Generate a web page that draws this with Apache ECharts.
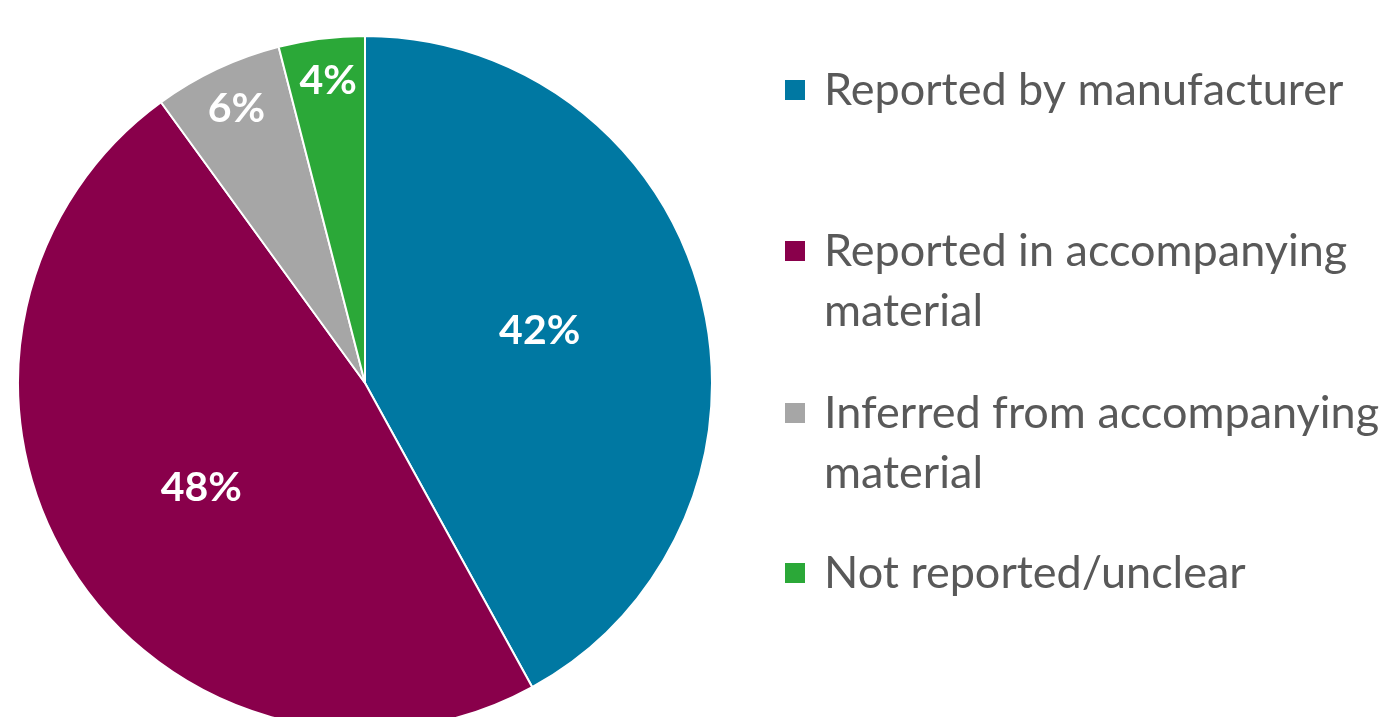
<!DOCTYPE html>
<html>
<head>
<meta charset="utf-8">
<script src="https://cdn.jsdelivr.net/npm/echarts@6/dist/echarts.min.js"></script>
<style>
html,body{margin:0;padding:0;background:#fff;}
#chart{width:1389px;height:717px;}
</style>
</head>
<body>
<div id="chart"></div>
<script>
// ---- data ----
var categories = ['Reported by manufacturer', 'Reported in accompanying material', 'Inferred from accompanying material', 'Not reported/unclear'];
var values = [42, 48, 6, 4];
var legendLines = [['Reported by manufacturer'], ['Reported in accompanying', 'material'], ['Inferred from accompanying', 'material'], ['Not reported/unclear']];

// ---- style ----
var colors = ['#0078A2', '#89004B', '#A6A6A6', '#2BA838'];
var labelRadialFrac = [0.52, 0.55, 0.875, 0.885];
var labelNudge = [[-3, -7], [0, 1], [2, 3], [2, 5]];
var R = 347;
var cx = 365, cy = 383;
var legendIconCenters = [90, 251, 413, 573];
var lineH = 60;

var total = values.reduce(function(a,b){return a+b;},0);
var cum = 0;
var pieData = values.map(function(v, i){
  var mid = (cum + v/2) / total * 2 * Math.PI;
  cum += v;
  var f = labelRadialFrac[i] - 0.5;
  var dx = f * R * Math.sin(mid) + labelNudge[i][0], dy = -f * R * Math.cos(mid) + labelNudge[i][1];
  return {
    name: categories[i], value: v,
    itemStyle: {color: colors[i]},
    label: {offset: [dx, dy]}
  };
});

var legends = categories.map(function(name, i){
  var lines = legendLines[i];
  var txt = lines.length > 1 ? '\n' + lines.join('\n') : lines[0];
  var nLines = lines.length > 1 ? 3 : 1;
  return {
    orient: 'vertical',
    left: 783,
    top: legendIconCenters[i] - nLines * lineH / 2,
    padding: 0,
    icon: 'rect',
    itemWidth: 22, itemHeight: 22,
    data: [name],
    selectedMode: false,
    formatter: function(){ return txt; },
    textStyle: {
      fontFamily: 'Lato', fontSize: 45, color: '#595959',
      lineHeight: lineH, padding: [0, 0, 0, 13]
    }
  };
});

var chart = echarts.init(document.getElementById('chart'), null, {renderer: 'canvas'});
chart.setOption({
  animation: false,
  backgroundColor: '#ffffff',
  legend: legends,
  series: [{
    type: 'pie',
    center: [cx, cy],
    radius: R,
    startAngle: 90,
    clockwise: true,
    data: pieData,
    itemStyle: {borderColor: '#ffffff', borderWidth: 2},
    label: {
      show: true, position: 'inside',
      formatter: '{c}%',
      color: '#ffffff', fontFamily: 'Lato', fontWeight: 'bold', fontSize: 41
    },
    labelLine: {show: false},
    emphasis: {disabled: true}
  }]
});
</script>
</body>
</html>
